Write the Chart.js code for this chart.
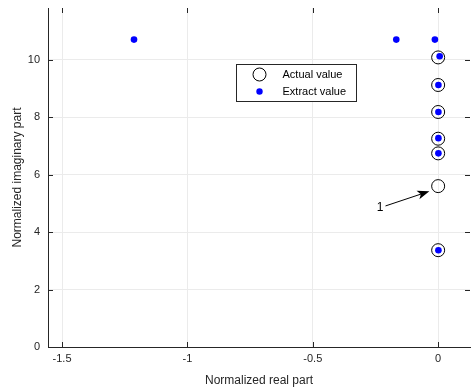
<!DOCTYPE html>
<html>
<head>
<meta charset="utf-8">
<script src="https://cdn.jsdelivr.net/npm/chart.js@4/dist/chart.umd.min.js"></script>
<style>
  html, body { margin: 0; padding: 0; background: #fff; }
  #wrap { width: 472px; height: 390px; }
</style>
</head>
<body>
<div id="wrap"><canvas id="roots" width="472" height="390"></canvas></div>
<script>
// values
const actualReal = [0, 0, 0, 0, 0, 0, 0];
const actualImag = [10.08, 9.12, 8.18, 7.25, 6.74, 5.6, 3.37];
const extractReal = [-1.213, -0.167, -0.013, 0.006, 0.001, 0.001, 0.001, 0.001, 0.001];
const extractImag = [10.7, 10.7, 10.7, 10.12, 9.12, 8.18, 7.27, 6.74, 3.37];
const xTicks = [-1.5, -1, -0.5, 0];
const yTicks = [0, 2, 4, 6, 8, 10];
const arrowFrom = { x: -0.21, y: 4.91 };
const arrowTo = { x: -0.035, y: 5.42 };
const arrowLabel = "1";

const toPoints = (xs, ys) => xs.map((x, i) => ({ x: x, y: ys[i] }));

const FONT = "'Liberation Sans', Arial, sans-serif";
const AXIS = "#262626";

const matlabAxes = {
  id: "matlabAxes",
  afterDraw(chart) {
    const { ctx, chartArea: a, scales } = chart;
    ctx.save();
    ctx.strokeStyle = AXIS;
    ctx.lineWidth = 1;
    ctx.beginPath();
    // inward ticks on all four sides
    xTicks.forEach((t) => {
      const px = Math.round(scales.x.getPixelForValue(t)) + 0.5;
      ctx.moveTo(px, a.bottom); ctx.lineTo(px, a.bottom - 5);
      ctx.moveTo(px, a.top); ctx.lineTo(px, a.top + 5);
    });
    yTicks.forEach((t) => {
      const py = Math.round(scales.y.getPixelForValue(t)) + 0.5;
      ctx.moveTo(a.left, py); ctx.lineTo(a.left + 5, py);
      ctx.moveTo(a.right, py); ctx.lineTo(a.right - 5, py);
    });
    ctx.stroke();

    // arrow annotation
    const x0 = scales.x.getPixelForValue(arrowFrom.x);
    const y0 = scales.y.getPixelForValue(arrowFrom.y);
    const x1 = scales.x.getPixelForValue(arrowTo.x);
    const y1 = scales.y.getPixelForValue(arrowTo.y);
    const ang = Math.atan2(y1 - y0, x1 - x0);
    ctx.strokeStyle = "#000";
    ctx.fillStyle = "#000";
    ctx.beginPath();
    ctx.moveTo(x0, y0);
    ctx.lineTo(x1 - 8 * Math.cos(ang), y1 - 8 * Math.sin(ang));
    ctx.stroke();
    ctx.beginPath();
    ctx.moveTo(x1, y1);
    ctx.lineTo(x1 - 12 * Math.cos(ang) + 4.5 * Math.sin(ang), y1 - 12 * Math.sin(ang) - 4.5 * Math.cos(ang));
    ctx.lineTo(x1 - 9 * Math.cos(ang), y1 - 9 * Math.sin(ang));
    ctx.lineTo(x1 - 12 * Math.cos(ang) - 4.5 * Math.sin(ang), y1 - 12 * Math.sin(ang) + 4.5 * Math.cos(ang));
    ctx.closePath();
    ctx.fill();
    ctx.font = "12px " + FONT;
    ctx.textAlign = "right";
    ctx.textBaseline = "middle";
    ctx.fillText(arrowLabel, x0 - 2, y0 + 2);

    // legend box
    const bx = 236.5, by = 64.5, bw = 120, bh = 37;
    ctx.fillStyle = "#fff";
    ctx.fillRect(bx, by, bw, bh);
    ctx.strokeStyle = AXIS;
    ctx.strokeRect(bx, by, bw, bh);
    ctx.beginPath();
    ctx.arc(bx + 23, by + 10, 6.5, 0, Math.PI * 2);
    ctx.strokeStyle = "#000";
    ctx.stroke();
    ctx.beginPath();
    ctx.arc(bx + 23, by + 27, 3.2, 0, Math.PI * 2);
    ctx.fillStyle = "#0000ff";
    ctx.fill();
    ctx.fillStyle = "#000";
    ctx.font = "11px " + FONT;
    ctx.textAlign = "left";
    ctx.fillText(chart.data.datasets[0].label, bx + 46, by + 10);
    ctx.fillText(chart.data.datasets[1].label, bx + 46, by + 27);
    ctx.restore();
  }
};

new Chart(document.getElementById("roots"), {
  type: "scatter",
  data: {
    datasets: [
      {
        label: "Actual value",
        data: toPoints(actualReal, actualImag),
        pointRadius: 6.5,
        pointBorderWidth: 1,
        pointBorderColor: "#000",
        pointBackgroundColor: "rgba(255,255,255,0)",
        order: 2,
      },
      {
        label: "Extract value",
        data: toPoints(extractReal, extractImag),
        pointRadius: 3.3,
        pointBorderWidth: 0,
        pointBackgroundColor: "#0000ff",
        pointBorderColor: "#0000ff",
        order: 1,
      },
    ],
  },
  options: {
    responsive: false,
    animation: false,
    layout: { autoPadding: false, padding: { top: 8, right: 2, left: 0, bottom: 0 } },
    plugins: {
      legend: { display: false },
      tooltip: { enabled: false },
    },
    scales: {
      x: {
        type: "linear",
        min: -1.556,
        max: 0.127,
        afterBuildTicks: (s) => { s.ticks = xTicks.map((v) => ({ value: v })); },
        afterFit: (s) => { s.height = 43; s.paddingLeft = 0; s.paddingRight = 0; },
        grid: { color: "#ebebeb", drawTicks: false },
        border: { color: AXIS },
        ticks: {
          color: "#262626",
          padding: 5,
          font: { family: FONT, size: 11 },
          callback: (v) => String(v),
        },
        title: {
          display: true,
          text: "Normalized real part",
          color: "#262626",
          font: { family: FONT, size: 12 },
          padding: { top: 0, bottom: 2 },
        },
      },
      y: {
        type: "linear",
        min: 0,
        max: 11.8,
        afterBuildTicks: (s) => { s.ticks = yTicks.map((v) => ({ value: v })); },
        afterFit: (s) => { s.width = 48; s.paddingTop = 0; s.paddingBottom = 0; },
        grid: { color: "#ebebeb", drawTicks: false },
        border: { color: AXIS },
        ticks: {
          color: "#262626",
          padding: 8,
          font: { family: FONT, size: 11 },
        },
        title: {
          display: true,
          text: "Normalized imaginary part",
          color: "#262626",
          font: { family: FONT, size: 12 },
          padding: { top: 10, bottom: 0 },
        },
      },
    },
  },
  plugins: [matlabAxes],
});
</script>
</body>
</html>
